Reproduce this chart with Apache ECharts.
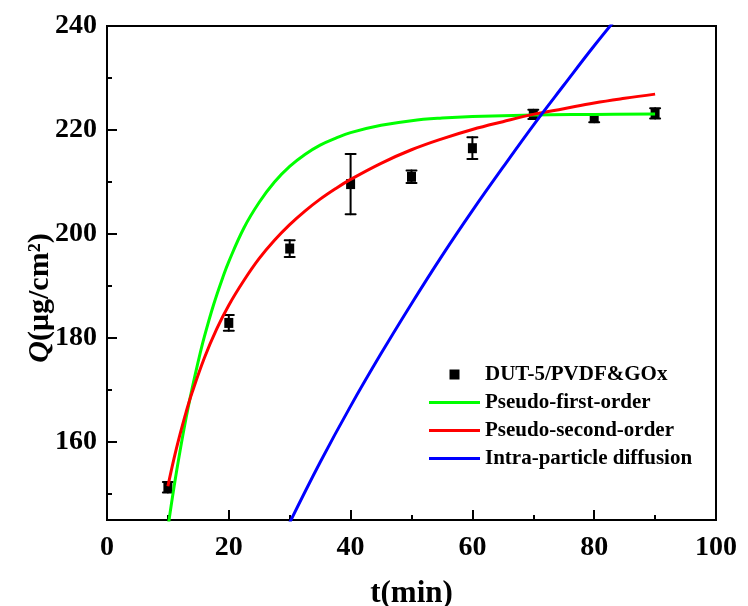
<!DOCTYPE html>
<html>
<head>
<meta charset="utf-8">
<script src="https://cdn.jsdelivr.net/npm/echarts@6/dist/echarts.min.js"></script>
<style>html,body{margin:0;padding:0;background:#fff;}#chart{width:748px;height:606px;}</style>
</head>
<body>
<div id="chart"></div>
<script>
// measured data points
const tPoints = [10, 20, 30, 40, 50, 60, 70, 80, 90];
const qPoints = [151.3, 182.9, 197.2, 209.6, 211.0, 216.5, 223.0, 222.3, 223.2];
const qErr = [1.0, 1.5, 1.6, 5.8, 1.2, 2.1, 0.9, 0.8, 1.0];

// fitted curves
const firstT = [10, 11, 12, 13, 14, 15, 16, 17.5, 19, 20, 22.5, 25, 27.5, 30, 32.5, 35, 37.5, 40, 45, 50, 55, 60, 70, 80, 90];
const firstQ = [143.5, 151.3, 158.3, 164.7, 170.4, 175.6, 180.3, 186.4, 191.6, 194.7, 201.2, 206.1, 210.0, 213.0, 215.3, 217.1, 218.4, 219.5, 220.9, 221.8, 222.3, 222.6, 222.9, 223.0, 223.1];
const secondT = [10, 11, 12, 13, 14, 16, 18, 20, 22.5, 25, 27.5, 30, 32.5, 35, 37.5, 40, 45, 50, 55, 60, 65, 70, 75, 80, 85, 90];
const secondQ = [151.5, 156.8, 161.5, 165.8, 169.6, 176.2, 181.7, 186.3, 191.1, 195.3, 198.8, 201.8, 204.4, 206.7, 208.7, 210.5, 213.6, 216.2, 218.3, 220.1, 221.6, 223.0, 224.1, 225.2, 226.1, 226.9];
const diffT = [30, 35, 40, 45, 50, 55, 60, 65, 70, 75, 80, 85, 90];
const diffQ = [144.5, 156.1, 166.9, 177.0, 186.6, 195.8, 204.5, 212.8, 220.9, 228.6, 236.2, 243.4, 250.5];

// axis ticks
const xTicks = [0, 20, 40, 60, 80, 100];
const yMajor = [160, 180, 200, 220, 240];
const yMinor = [150, 170, 190, 210, 230];

const names = ['DUT-5/PVDF&GOx', 'Pseudo-first-order', 'Pseudo-second-order', 'Intra-particle diffusion'];
const colors = ['#000000', '#00ff00', '#ff0000', '#0000ff'];

const FONT = "'Liberation Serif', 'Times New Roman', serif";
const zip = (a, b) => a.map((v, i) => [v, b[i]]);

const chart = echarts.init(document.getElementById('chart'), null, {renderer: 'canvas'});
const option = {
  animation: false,
  backgroundColor: '#fff',
  grid: {left: 107, right: 32, top: 26, bottom: 86, containLabel: false, outerBoundsMode: 'none',
    show: true, borderColor: '#000', borderWidth: 2, backgroundColor: 'transparent'},
  legend: {
    orient: 'vertical', left: 424, top: 359, itemWidth: 51, itemHeight: 10, itemGap: 7,
    symbolKeepAspect: true,
    textStyle: {fontFamily: FONT, fontWeight: 'bold', fontSize: 21, color: '#000'},
    data: [
      {name: names[0], icon: 'path://M0,0L10,0L10,10L0,10Z'},
      {name: names[1], icon: 'path://M0,0L53,0L53,3L0,3Z'},
      {name: names[2], icon: 'path://M0,0L53,0L53,3L0,3Z'},
      {name: names[3], icon: 'path://M0,0L53,0L53,3L0,3Z'}
    ]
  },
  xAxis: {
    type: 'value', min: xTicks[0], max: xTicks[xTicks.length - 1], interval: 20,
    name: 't(min)', nameLocation: 'middle', nameGap: 58, nameMoveOverlap: false,
    nameTextStyle: {fontFamily: FONT, fontWeight: 'bold', fontSize: 31, color: '#000'},
    axisLine: {lineStyle: {color: '#000', width: 2}},
    axisTick: {inside: true, length: 10, lineStyle: {color: '#000', width: 2}},
    minorTick: {show: true, splitNumber: 2, length: 5, lineStyle: {color: '#000', width: 2}},
    axisLabel: {fontFamily: FONT, fontWeight: 'bold', fontSize: 28, color: '#000', margin: 14},
    splitLine: {show: false}, minorSplitLine: {show: false}
  },
  yAxis: [{
    type: 'value', min: 145, max: 240,
    name: '{q|Q}{n|(μg/cm²)}', nameLocation: 'middle', nameGap: 52, nameMoveOverlap: false,
    nameTextStyle: {fontFamily: FONT, fontWeight: 'bold', fontSize: 30, color: '#000', padding: [0, 50, 0, 0],
      rich: {
        q: {fontFamily: FONT, fontWeight: 'bold', fontStyle: 'italic', fontSize: 30, color: '#000'},
        n: {fontFamily: FONT, fontWeight: 'bold', fontSize: 30, color: '#000'}
      }},
    axisLine: {show: true, lineStyle: {color: '#000', width: 2}},
    axisTick: {show: true, inside: true, length: 10, customValues: yMajor, lineStyle: {color: '#000', width: 2}},
    axisLabel: {fontFamily: FONT, fontWeight: 'bold', fontSize: 28, color: '#000', margin: 10, customValues: yMajor},
    splitLine: {show: false}
  }, {
    type: 'value', min: 145, max: 240, position: 'left',
    axisLine: {show: false},
    axisTick: {show: true, inside: true, length: 5, customValues: yMinor, lineStyle: {color: '#000', width: 2}},
    axisLabel: {show: false, customValues: yMinor},
    splitLine: {show: false}
  }],
  series: [
    {
      name: names[0], type: 'scatter', data: zip(tPoints, qPoints),
      symbol: 'rect', symbolSize: [9, 10], itemStyle: {color: colors[0], opacity: 1}, z: 3
    },
    {
      name: names[0], type: 'custom', z: 3,
      data: tPoints.map((t, i) => [t, qPoints[i], qErr[i]]),
      renderItem: function (params, api) {
        const x = api.value(0), y = api.value(1), e = api.value(2);
        const hi = api.coord([x, y + e]);
        const lo = api.coord([x, y - e]);
        const cw = 5;
        const st = {stroke: '#000', lineWidth: 2, lineCap: 'round'};
        return {type: 'group', children: [
          {type: 'line', shape: {x1: hi[0], y1: hi[1], x2: lo[0], y2: lo[1]}, style: st},
          {type: 'line', shape: {x1: hi[0] - cw, y1: hi[1], x2: hi[0] + cw, y2: hi[1]}, style: st},
          {type: 'line', shape: {x1: lo[0] - cw, y1: lo[1], x2: lo[0] + cw, y2: lo[1]}, style: st}
        ]};
      }
    },
    {
      name: names[1], type: 'line', data: zip(firstT, firstQ), showSymbol: false, symbol: 'none',
      smooth: 0.4, clip: true,
      lineStyle: {color: colors[1], width: 3}, itemStyle: {color: colors[1]}, z: 4
    },
    {
      name: names[2], type: 'line', data: zip(secondT, secondQ), showSymbol: false, symbol: 'none',
      smooth: 0.4, clip: true,
      lineStyle: {color: colors[2], width: 3}, itemStyle: {color: colors[2]}, z: 4
    },
    {
      name: names[3], type: 'line', data: zip(diffT, diffQ), showSymbol: false, symbol: 'none',
      smooth: 0.4, clip: true,
      lineStyle: {color: colors[3], width: 3}, itemStyle: {color: colors[3]}, z: 4
    }
  ]
};
chart.setOption(option);
</script>
</body>
</html>
